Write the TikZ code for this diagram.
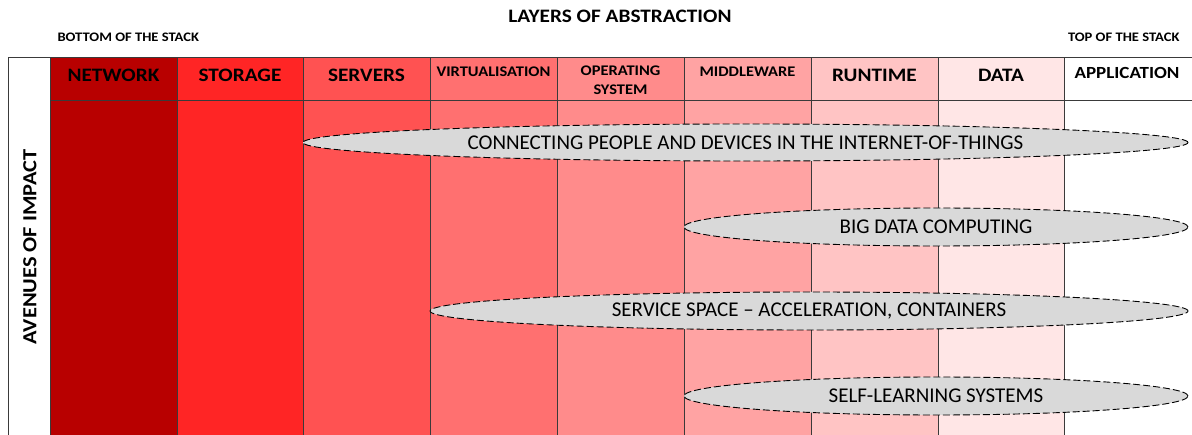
\documentclass[tikz,border=0pt]{standalone}
\usepackage{fontspec}
\setmainfont{Carlito}[BoldFeatures={FakeStretch=1.12}]
\usetikzlibrary{shapes.geometric}
\definecolor{cNet}{HTML}{B80000}
\definecolor{cSto}{HTML}{FF2525}
\definecolor{cSrv}{HTML}{FF5252}
\definecolor{cVir}{HTML}{FF7070}
\definecolor{cOS}{HTML}{FF8B8B}
\definecolor{cMid}{HTML}{FFA3A3}
\definecolor{cRun}{HTML}{FFC4C4}
\definecolor{cDat}{HTML}{FFE6E6}
\definecolor{cEll}{HTML}{D9D9D9}
\definecolor{cLine}{HTML}{3A3A3A}
\begin{document}
\begin{tikzpicture}[x=1pt,y=-1pt,
  col/.style={draw=cLine,line width=0.8pt,anchor=north west,minimum width=127pt,minimum height=335pt,inner sep=0pt,outer sep=0pt},
  hdr/.style={draw=cLine,line width=0.8pt,anchor=north west,minimum width=127pt,minimum height=43pt,inner sep=0pt,outer sep=0pt},
  bigl/.style={font=\fontsize{19}{22}\selectfont\bfseries},
  smll/.style={font=\fontsize{14.7}{19}\selectfont\bfseries,align=center},
  avenue/.style={ellipse,draw=black,dashed,dash pattern=on 7pt off 3pt,line width=0.9pt,fill=cEll,inner sep=0pt,font=\fontsize{21}{24}\selectfont},
  side/.style={font=\fontsize{13}{15}\selectfont\bfseries}]
\useasboundingbox (0,0) rectangle (1192,435);
% left column
\node[draw=cLine,line width=0.8pt,anchor=north west,minimum width=42pt,minimum height=380pt,inner sep=0pt] (left) at (8,57) {};
% header cells
\node[hdr,fill=cNet] (h1) at (50,57) {};
\node[hdr,fill=cSto] (h2) at (177,57) {};
\node[hdr,fill=cSrv] (h3) at (303,57) {};
\node[hdr,fill=cVir] (h4) at (430,57) {};
\node[hdr,fill=cOS] (h5) at (557,57) {};
\node[hdr,fill=cMid] (h6) at (684,57) {};
\node[hdr,fill=cRun] (h7) at (811,57) {};
\node[hdr,fill=cDat] (h8) at (938,57) {};
\node[hdr,fill=white,minimum width=130pt] (h9) at (1064,57) {};
% body columns
\node[col,fill=cNet] (c1) at (50,100) {};
\node[col,fill=cSto] (c2) at (177,100) {};
\node[col,fill=cSrv] (c3) at (303,100) {};
\node[col,fill=cVir] (c4) at (430,100) {};
\node[col,fill=cOS] (c5) at (557,100) {};
\node[col,fill=cMid] (c6) at (684,100) {};
\node[col,fill=cRun] (c7) at (811,100) {};
\node[col,fill=cDat] (c8) at (938,100) {};
\node[col,fill=white,minimum width=130pt] (c9) at (1064,100) {};
% header labels
\node[bigl] (t1) at (113.5,75) {NETWORK};
\node[bigl] (t2) at (240,75) {STORAGE};
\node[bigl] (t3) at (366.5,75) {SERVERS};
\node[smll] (t4) at (493.5,72) {VIRTUALISATION};
\node[smll,anchor=north] (t5) at (620.5,62) {OPERATING\\SYSTEM};
\node[smll] (t6) at (747.5,72) {MIDDLEWARE};
\node[bigl] (t7) at (874.5,75) {RUNTIME};
\node[bigl] (t8) at (1001,75) {DATA};
\node[smll,font=\fontsize{17}{19}\selectfont\bfseries] (t9) at (1127,73) {APPLICATION};
% titles
\node[font=\fontsize{19}{21}\selectfont\bfseries] (title) at (620,16) {LAYERS OF ABSTRACTION};
\node[side,anchor=west] (bot) at (54,37) {BOTTOM OF THE STACK};
\node[side,anchor=east] (top) at (1183,37) {TOP OF THE STACK};
\node[font=\fontsize{20}{22}\selectfont\bfseries,rotate=90] (aoi) at (30,247) {AVENUES OF IMPACT};
% avenues
\node[avenue,minimum width=885pt,minimum height=37pt] (e1) at (745.5,142.5) {CONNECTING PEOPLE AND DEVICES IN THE INTERNET-OF-THINGS};
\node[avenue,minimum width=504pt,minimum height=38pt] (e2) at (936,227) {BIG DATA COMPUTING};
\node[avenue,minimum width=758pt,minimum height=38pt] (e3) at (809,311) {SERVICE SPACE -- ACCELERATION, CONTAINERS};
\node[avenue,minimum width=504pt,minimum height=38pt] (e4) at (936,396) {SELF-LEARNING SYSTEMS};
\end{tikzpicture}
\end{document}
